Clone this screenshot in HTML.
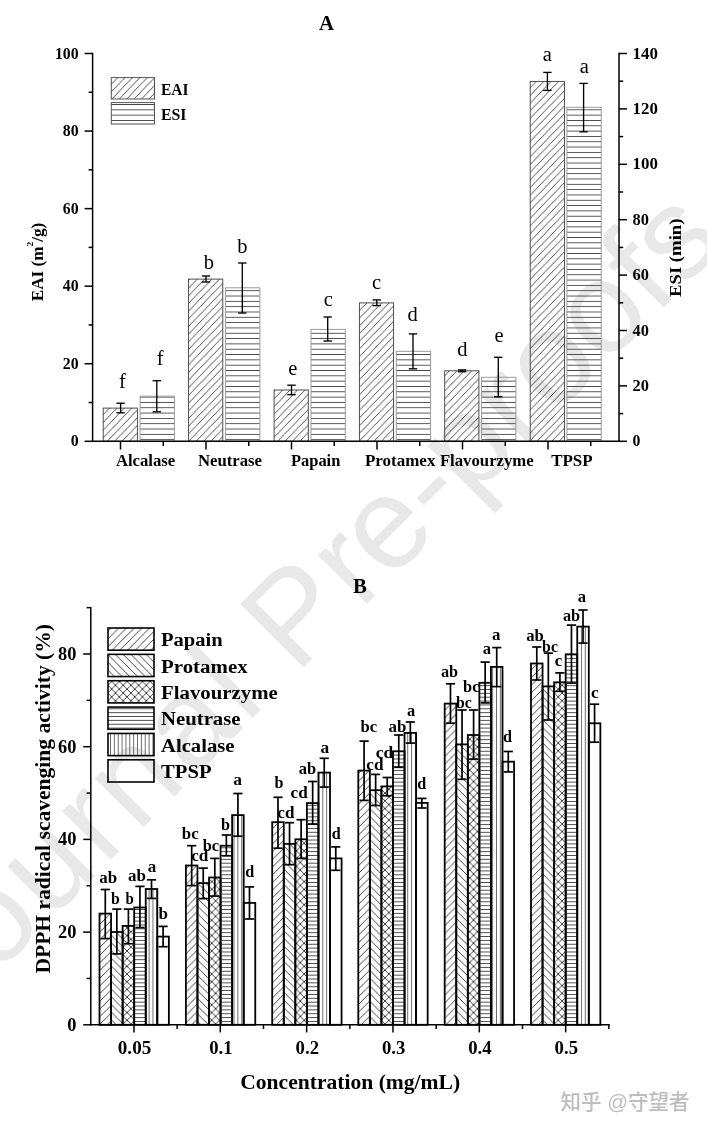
<!DOCTYPE html>
<html><head><meta charset="utf-8"><title>Figure</title>
<style>html,body{margin:0;padding:0;background:#fff}svg{display:block}text{font-family:"Liberation Serif",serif}</style></head><body>
<svg width="707" height="1130" viewBox="0 0 707 1130">
<defs>
<pattern id="aD" patternUnits="userSpaceOnUse" width="7.41" height="7.67"><path d="M0 7.67L7.41 0M-1 1.035L1 -1.035M6.41 8.705L8.41 6.635" stroke="#000" stroke-width="0.7" fill="none"/></pattern>
<pattern id="aH" patternUnits="userSpaceOnUse" width="20" height="5.32" patternTransform="translate(0,1.2)"><line x1="0" y1="2" x2="20" y2="2" stroke="#444" stroke-width="1" shape-rendering="crispEdges"/></pattern>
<pattern id="bD" patternUnits="userSpaceOnUse" width="7.7" height="7.7"><path d="M0 7.7L7.7 0M-1 1L1 -1M6.7 8.7L8.7 6.7" stroke="#111" stroke-width="0.8" fill="none"/></pattern>
<pattern id="bU" patternUnits="userSpaceOnUse" width="7.7" height="7.7"><path d="M0 0L7.7 7.7M-1 6.7L1 8.7M6.7 -1L8.7 1" stroke="#111" stroke-width="0.8" fill="none"/></pattern>
<pattern id="bX" patternUnits="userSpaceOnUse" width="7.7" height="7.7"><path d="M0 7.7L7.7 0M-1 1L1 -1M6.7 8.7L8.7 6.7M0 0L7.7 7.7M-1 6.7L1 8.7M6.7 -1L8.7 1" stroke="#111" stroke-width="0.8" fill="none"/></pattern>
<pattern id="bH" patternUnits="userSpaceOnUse" width="20" height="3.86"><line x1="0" y1="2" x2="20" y2="2" stroke="#4c4c4c" stroke-width="1" shape-rendering="crispEdges"/></pattern>
<pattern id="bV" patternUnits="userSpaceOnUse" width="3.86" height="20"><line x1="2" y1="0" x2="2" y2="20" stroke="#6a6a6a" stroke-width="1" shape-rendering="crispEdges"/></pattern>
</defs>
<rect width="707" height="1130" fill="#fff"/>
<text transform="translate(-31,1001.7) rotate(-45)" font-size="130" fill="#e8e8e8" style="font-family:'Liberation Sans',sans-serif" x="-32.0 37.2 114.5 191.8 238.0 315.3 392.6 425.0 462.4 553.5 593.5 667.0 708.7 781.3 827.1 898.3 970.9 1007.2" y="0">Journal Pre-proofs</text>
<rect x="103.20" y="408.10" width="34.20" height="33.20" fill="url(#aD)" stroke="#3c3c3c" stroke-width="0.9"/>
<rect x="140.10" y="396.20" width="34.30" height="45.10" fill="url(#aH)" stroke="#9a9a9a" stroke-width="1"/>
<rect x="188.60" y="279.10" width="34.20" height="162.20" fill="url(#aD)" stroke="#3c3c3c" stroke-width="0.9"/>
<rect x="225.60" y="287.80" width="34.30" height="153.50" fill="url(#aH)" stroke="#9a9a9a" stroke-width="1"/>
<rect x="274.10" y="390.00" width="34.20" height="51.30" fill="url(#aD)" stroke="#3c3c3c" stroke-width="0.9"/>
<rect x="311.00" y="329.40" width="34.30" height="111.90" fill="url(#aH)" stroke="#9a9a9a" stroke-width="1"/>
<rect x="359.40" y="302.90" width="34.20" height="138.40" fill="url(#aD)" stroke="#3c3c3c" stroke-width="0.9"/>
<rect x="396.30" y="351.30" width="34.30" height="90.00" fill="url(#aH)" stroke="#9a9a9a" stroke-width="1"/>
<rect x="444.70" y="370.80" width="34.20" height="70.50" fill="url(#aD)" stroke="#3c3c3c" stroke-width="0.9"/>
<rect x="481.60" y="377.30" width="34.30" height="64.00" fill="url(#aH)" stroke="#9a9a9a" stroke-width="1"/>
<rect x="530.20" y="81.40" width="34.20" height="359.90" fill="url(#aD)" stroke="#3c3c3c" stroke-width="0.9"/>
<rect x="566.90" y="107.30" width="34.30" height="334.00" fill="url(#aH)" stroke="#9a9a9a" stroke-width="1"/>
<line x1="120.60" y1="403.20" x2="120.60" y2="412.80" stroke="#000" stroke-width="1.35"/>
<line x1="116.40" y1="403.20" x2="124.80" y2="403.20" stroke="#000" stroke-width="1.35"/>
<line x1="116.40" y1="412.80" x2="124.80" y2="412.80" stroke="#000" stroke-width="1.35"/>
<line x1="156.80" y1="380.70" x2="156.80" y2="411.80" stroke="#000" stroke-width="1.35"/>
<line x1="152.60" y1="380.70" x2="161.00" y2="380.70" stroke="#000" stroke-width="1.35"/>
<line x1="152.60" y1="411.80" x2="161.00" y2="411.80" stroke="#000" stroke-width="1.35"/>
<line x1="206.00" y1="276.00" x2="206.00" y2="282.00" stroke="#000" stroke-width="1.35"/>
<line x1="201.80" y1="276.00" x2="210.20" y2="276.00" stroke="#000" stroke-width="1.35"/>
<line x1="201.80" y1="282.00" x2="210.20" y2="282.00" stroke="#000" stroke-width="1.35"/>
<line x1="242.30" y1="263.00" x2="242.30" y2="313.00" stroke="#000" stroke-width="1.35"/>
<line x1="238.10" y1="263.00" x2="246.50" y2="263.00" stroke="#000" stroke-width="1.35"/>
<line x1="238.10" y1="313.00" x2="246.50" y2="313.00" stroke="#000" stroke-width="1.35"/>
<line x1="291.50" y1="385.20" x2="291.50" y2="394.70" stroke="#000" stroke-width="1.35"/>
<line x1="287.30" y1="385.20" x2="295.70" y2="385.20" stroke="#000" stroke-width="1.35"/>
<line x1="287.30" y1="394.70" x2="295.70" y2="394.70" stroke="#000" stroke-width="1.35"/>
<line x1="327.70" y1="317.00" x2="327.70" y2="341.00" stroke="#000" stroke-width="1.35"/>
<line x1="323.50" y1="317.00" x2="331.90" y2="317.00" stroke="#000" stroke-width="1.35"/>
<line x1="323.50" y1="341.00" x2="331.90" y2="341.00" stroke="#000" stroke-width="1.35"/>
<line x1="376.80" y1="299.90" x2="376.80" y2="305.60" stroke="#000" stroke-width="1.35"/>
<line x1="372.60" y1="299.90" x2="381.00" y2="299.90" stroke="#000" stroke-width="1.35"/>
<line x1="372.60" y1="305.60" x2="381.00" y2="305.60" stroke="#000" stroke-width="1.35"/>
<line x1="413.00" y1="333.90" x2="413.00" y2="368.80" stroke="#000" stroke-width="1.35"/>
<line x1="408.80" y1="333.90" x2="417.20" y2="333.90" stroke="#000" stroke-width="1.35"/>
<line x1="408.80" y1="368.80" x2="417.20" y2="368.80" stroke="#000" stroke-width="1.35"/>
<line x1="462.10" y1="369.90" x2="462.10" y2="371.70" stroke="#000" stroke-width="1.35"/>
<line x1="457.90" y1="369.90" x2="466.30" y2="369.90" stroke="#000" stroke-width="1.35"/>
<line x1="457.90" y1="371.70" x2="466.30" y2="371.70" stroke="#000" stroke-width="1.35"/>
<line x1="498.30" y1="357.30" x2="498.30" y2="396.80" stroke="#000" stroke-width="1.35"/>
<line x1="494.10" y1="357.30" x2="502.50" y2="357.30" stroke="#000" stroke-width="1.35"/>
<line x1="494.10" y1="396.80" x2="502.50" y2="396.80" stroke="#000" stroke-width="1.35"/>
<line x1="547.40" y1="72.40" x2="547.40" y2="90.40" stroke="#000" stroke-width="1.35"/>
<line x1="543.20" y1="72.40" x2="551.60" y2="72.40" stroke="#000" stroke-width="1.35"/>
<line x1="543.20" y1="90.40" x2="551.60" y2="90.40" stroke="#000" stroke-width="1.35"/>
<line x1="583.60" y1="83.40" x2="583.60" y2="131.80" stroke="#000" stroke-width="1.35"/>
<line x1="579.40" y1="83.40" x2="587.80" y2="83.40" stroke="#000" stroke-width="1.35"/>
<line x1="579.40" y1="131.80" x2="587.80" y2="131.80" stroke="#000" stroke-width="1.35"/>
<line x1="92.60" y1="52.75" x2="92.60" y2="442.05" stroke="#000" stroke-width="1.5"/>
<line x1="619.00" y1="52.75" x2="619.00" y2="442.05" stroke="#000" stroke-width="1.5"/>
<line x1="91.85" y1="441.30" x2="619.75" y2="441.30" stroke="#000" stroke-width="1.5"/>
<line x1="84.60" y1="441.30" x2="92.60" y2="441.30" stroke="#000" stroke-width="1.5"/>
<text font-size="15.8" font-weight="bold" text-anchor="end" x="78.6" y="446.4">0</text>
<line x1="88.60" y1="402.52" x2="92.60" y2="402.52" stroke="#000" stroke-width="1.5"/>
<line x1="84.60" y1="363.74" x2="92.60" y2="363.74" stroke="#000" stroke-width="1.5"/>
<text font-size="15.8" font-weight="bold" text-anchor="end" x="78.6" y="368.8">20</text>
<line x1="88.60" y1="324.96" x2="92.60" y2="324.96" stroke="#000" stroke-width="1.5"/>
<line x1="84.60" y1="286.18" x2="92.60" y2="286.18" stroke="#000" stroke-width="1.5"/>
<text font-size="15.8" font-weight="bold" text-anchor="end" x="78.6" y="291.3">40</text>
<line x1="88.60" y1="247.40" x2="92.60" y2="247.40" stroke="#000" stroke-width="1.5"/>
<line x1="84.60" y1="208.62" x2="92.60" y2="208.62" stroke="#000" stroke-width="1.5"/>
<text font-size="15.8" font-weight="bold" text-anchor="end" x="78.6" y="213.7">60</text>
<line x1="88.60" y1="169.84" x2="92.60" y2="169.84" stroke="#000" stroke-width="1.5"/>
<line x1="84.60" y1="131.06" x2="92.60" y2="131.06" stroke="#000" stroke-width="1.5"/>
<text font-size="15.8" font-weight="bold" text-anchor="end" x="78.6" y="136.2">80</text>
<line x1="88.60" y1="92.28" x2="92.60" y2="92.28" stroke="#000" stroke-width="1.5"/>
<line x1="84.60" y1="53.50" x2="92.60" y2="53.50" stroke="#000" stroke-width="1.5"/>
<text font-size="15.8" font-weight="bold" text-anchor="end" x="78.6" y="58.6">100</text>
<line x1="619.00" y1="441.30" x2="627.00" y2="441.30" stroke="#000" stroke-width="1.5"/>
<text font-size="15.8" font-weight="bold" x="632.6" y="446.4">0</text>
<line x1="619.00" y1="413.60" x2="623.20" y2="413.60" stroke="#000" stroke-width="1.5"/>
<line x1="619.00" y1="385.90" x2="627.00" y2="385.90" stroke="#000" stroke-width="1.5"/>
<text font-size="15.8" font-weight="bold" textLength="16.4" lengthAdjust="spacingAndGlyphs" x="632.6" y="391.0">20</text>
<line x1="619.00" y1="358.20" x2="623.20" y2="358.20" stroke="#000" stroke-width="1.5"/>
<line x1="619.00" y1="330.50" x2="627.00" y2="330.50" stroke="#000" stroke-width="1.5"/>
<text font-size="15.8" font-weight="bold" textLength="16.4" lengthAdjust="spacingAndGlyphs" x="632.6" y="335.6">40</text>
<line x1="619.00" y1="302.80" x2="623.20" y2="302.80" stroke="#000" stroke-width="1.5"/>
<line x1="619.00" y1="275.10" x2="627.00" y2="275.10" stroke="#000" stroke-width="1.5"/>
<text font-size="15.8" font-weight="bold" textLength="16.4" lengthAdjust="spacingAndGlyphs" x="632.6" y="280.2">60</text>
<line x1="619.00" y1="247.40" x2="623.20" y2="247.40" stroke="#000" stroke-width="1.5"/>
<line x1="619.00" y1="219.70" x2="627.00" y2="219.70" stroke="#000" stroke-width="1.5"/>
<text font-size="15.8" font-weight="bold" textLength="16.4" lengthAdjust="spacingAndGlyphs" x="632.6" y="224.8">80</text>
<line x1="619.00" y1="192.00" x2="623.20" y2="192.00" stroke="#000" stroke-width="1.5"/>
<line x1="619.00" y1="164.30" x2="627.00" y2="164.30" stroke="#000" stroke-width="1.5"/>
<text font-size="15.8" font-weight="bold" textLength="25.4" lengthAdjust="spacingAndGlyphs" x="632.6" y="169.4">100</text>
<line x1="619.00" y1="136.60" x2="623.20" y2="136.60" stroke="#000" stroke-width="1.5"/>
<line x1="619.00" y1="108.90" x2="627.00" y2="108.90" stroke="#000" stroke-width="1.5"/>
<text font-size="15.8" font-weight="bold" textLength="25.4" lengthAdjust="spacingAndGlyphs" x="632.6" y="114.0">120</text>
<line x1="619.00" y1="81.20" x2="623.20" y2="81.20" stroke="#000" stroke-width="1.5"/>
<line x1="619.00" y1="53.50" x2="627.00" y2="53.50" stroke="#000" stroke-width="1.5"/>
<text font-size="15.8" font-weight="bold" textLength="25.4" lengthAdjust="spacingAndGlyphs" x="632.6" y="58.6">140</text>
<line x1="120.50" y1="441.30" x2="120.50" y2="449.50" stroke="#000" stroke-width="1.5"/>
<line x1="163.25" y1="441.30" x2="163.25" y2="446.10" stroke="#000" stroke-width="1.5"/>
<line x1="206.00" y1="441.30" x2="206.00" y2="449.50" stroke="#000" stroke-width="1.5"/>
<line x1="248.75" y1="441.30" x2="248.75" y2="446.10" stroke="#000" stroke-width="1.5"/>
<line x1="291.50" y1="441.30" x2="291.50" y2="449.50" stroke="#000" stroke-width="1.5"/>
<line x1="334.25" y1="441.30" x2="334.25" y2="446.10" stroke="#000" stroke-width="1.5"/>
<line x1="377.00" y1="441.30" x2="377.00" y2="449.50" stroke="#000" stroke-width="1.5"/>
<line x1="419.75" y1="441.30" x2="419.75" y2="446.10" stroke="#000" stroke-width="1.5"/>
<line x1="462.50" y1="441.30" x2="462.50" y2="449.50" stroke="#000" stroke-width="1.5"/>
<line x1="505.25" y1="441.30" x2="505.25" y2="446.10" stroke="#000" stroke-width="1.5"/>
<line x1="548.00" y1="441.30" x2="548.00" y2="449.50" stroke="#000" stroke-width="1.5"/>
<line x1="590.75" y1="441.30" x2="590.75" y2="446.10" stroke="#000" stroke-width="1.5"/>
<text font-size="16.2" font-weight="bold" textLength="59.4" lengthAdjust="spacingAndGlyphs" x="115.9" y="465.7">Alcalase</text>
<text font-size="16.2" font-weight="bold" textLength="64.1" lengthAdjust="spacingAndGlyphs" x="197.9" y="465.7">Neutrase</text>
<text font-size="16.2" font-weight="bold" textLength="49.5" lengthAdjust="spacingAndGlyphs" x="290.9" y="465.7">Papain</text>
<text font-size="16.2" font-weight="bold" textLength="70.4" lengthAdjust="spacingAndGlyphs" x="365.0" y="465.7">Protamex</text>
<text font-size="16.2" font-weight="bold" textLength="93.8" lengthAdjust="spacingAndGlyphs" x="439.9" y="465.7">Flavourzyme</text>
<text font-size="16.2" font-weight="bold" textLength="41.4" lengthAdjust="spacingAndGlyphs" x="551.2" y="465.7">TPSP</text>
<text font-size="20.5" text-anchor="middle" x="122.5" y="388.4">f</text>
<text font-size="20.5" text-anchor="middle" x="160.2" y="365.4">f</text>
<text font-size="20.5" text-anchor="middle" x="208.8" y="268.5">b</text>
<text font-size="20.5" text-anchor="middle" x="242.3" y="253.3">b</text>
<text font-size="20.5" text-anchor="middle" x="292.9" y="375.3">e</text>
<text font-size="20.5" text-anchor="middle" x="328.2" y="306.3">c</text>
<text font-size="20.5" text-anchor="middle" x="376.5" y="288.9">c</text>
<text font-size="20.5" text-anchor="middle" x="412.6" y="320.9">d</text>
<text font-size="20.5" text-anchor="middle" x="462.3" y="356.3">d</text>
<text font-size="20.5" text-anchor="middle" x="499.1" y="341.8">e</text>
<text font-size="20.5" text-anchor="middle" x="547.2" y="60.9">a</text>
<text font-size="20.5" text-anchor="middle" x="584.2" y="73.4">a</text>
<text font-size="20.8" font-weight="bold" text-anchor="middle" x="326.6" y="29.9">A</text>
<rect x="111.30" y="77.60" width="43.20" height="21.40" fill="url(#aD)" stroke="#555" stroke-width="1"/>
<rect x="111.30" y="102.60" width="43.20" height="21.40" fill="url(#aH)" stroke="#555" stroke-width="1"/>
<text font-size="15.8" font-weight="bold" textLength="27.6" lengthAdjust="spacingAndGlyphs" x="161.0" y="94.9">EAI</text>
<text font-size="15.8" font-weight="bold" textLength="25.5" lengthAdjust="spacingAndGlyphs" x="161.0" y="119.8">ESI</text>
<text font-size="16.6" font-weight="bold" textLength="78.6" lengthAdjust="spacingAndGlyphs" transform="translate(43.4,301.3) rotate(-90)">EAI (m<tspan font-size="9" dy="-10">2</tspan><tspan dy="10">/g)</tspan></text>
<text font-size="16.6" font-weight="bold" textLength="78.5" lengthAdjust="spacingAndGlyphs" transform="translate(680.6,297.0) rotate(-90)">ESI (min)</text>
<rect x="99.50" y="913.60" width="11.56" height="111.20" fill="url(#bD)" stroke="#000" stroke-width="1.8"/>
<rect x="111.06" y="932.00" width="11.56" height="92.80" fill="url(#bU)" stroke="#000" stroke-width="1.8"/>
<rect x="122.62" y="925.90" width="11.56" height="98.90" fill="url(#bX)" stroke="#000" stroke-width="1.8"/>
<rect x="134.18" y="907.50" width="11.56" height="117.30" fill="url(#bH)" stroke="#000" stroke-width="1.8"/>
<rect x="145.74" y="889.00" width="11.56" height="135.80" fill="url(#bV)" stroke="#000" stroke-width="1.8"/>
<rect x="157.30" y="936.60" width="11.56" height="88.20" fill="none" stroke="#000" stroke-width="1.8"/>
<line x1="105.28" y1="889.50" x2="105.28" y2="938.60" stroke="#000" stroke-width="1.7"/>
<line x1="100.68" y1="889.50" x2="109.88" y2="889.50" stroke="#000" stroke-width="1.7"/>
<line x1="100.68" y1="938.60" x2="109.88" y2="938.60" stroke="#000" stroke-width="1.7"/>
<line x1="116.84" y1="909.10" x2="116.84" y2="953.90" stroke="#000" stroke-width="1.7"/>
<line x1="112.24" y1="909.10" x2="121.44" y2="909.10" stroke="#000" stroke-width="1.7"/>
<line x1="112.24" y1="953.90" x2="121.44" y2="953.90" stroke="#000" stroke-width="1.7"/>
<line x1="128.40" y1="909.10" x2="128.40" y2="943.70" stroke="#000" stroke-width="1.7"/>
<line x1="123.80" y1="909.10" x2="133.00" y2="909.10" stroke="#000" stroke-width="1.7"/>
<line x1="123.80" y1="943.70" x2="133.00" y2="943.70" stroke="#000" stroke-width="1.7"/>
<line x1="139.96" y1="886.40" x2="139.96" y2="927.60" stroke="#000" stroke-width="1.7"/>
<line x1="135.36" y1="886.40" x2="144.56" y2="886.40" stroke="#000" stroke-width="1.7"/>
<line x1="135.36" y1="927.60" x2="144.56" y2="927.60" stroke="#000" stroke-width="1.7"/>
<line x1="151.52" y1="879.80" x2="151.52" y2="898.40" stroke="#000" stroke-width="1.7"/>
<line x1="146.92" y1="879.80" x2="156.12" y2="879.80" stroke="#000" stroke-width="1.7"/>
<line x1="146.92" y1="898.40" x2="156.12" y2="898.40" stroke="#000" stroke-width="1.7"/>
<line x1="163.08" y1="926.40" x2="163.08" y2="946.70" stroke="#000" stroke-width="1.7"/>
<line x1="158.48" y1="926.40" x2="167.68" y2="926.40" stroke="#000" stroke-width="1.7"/>
<line x1="158.48" y1="946.70" x2="167.68" y2="946.70" stroke="#000" stroke-width="1.7"/>
<rect x="185.90" y="865.50" width="11.56" height="159.30" fill="url(#bD)" stroke="#000" stroke-width="1.8"/>
<rect x="197.46" y="883.10" width="11.56" height="141.70" fill="url(#bU)" stroke="#000" stroke-width="1.8"/>
<rect x="209.02" y="877.50" width="11.56" height="147.30" fill="url(#bX)" stroke="#000" stroke-width="1.8"/>
<rect x="220.58" y="845.70" width="11.56" height="179.10" fill="url(#bH)" stroke="#000" stroke-width="1.8"/>
<rect x="232.14" y="815.10" width="11.56" height="209.70" fill="url(#bV)" stroke="#000" stroke-width="1.8"/>
<rect x="243.70" y="902.90" width="11.56" height="121.90" fill="none" stroke="#000" stroke-width="1.8"/>
<line x1="191.68" y1="845.70" x2="191.68" y2="885.60" stroke="#000" stroke-width="1.7"/>
<line x1="187.08" y1="845.70" x2="196.28" y2="845.70" stroke="#000" stroke-width="1.7"/>
<line x1="187.08" y1="885.60" x2="196.28" y2="885.60" stroke="#000" stroke-width="1.7"/>
<line x1="203.24" y1="868.10" x2="203.24" y2="898.60" stroke="#000" stroke-width="1.7"/>
<line x1="198.64" y1="868.10" x2="207.84" y2="868.10" stroke="#000" stroke-width="1.7"/>
<line x1="198.64" y1="898.60" x2="207.84" y2="898.60" stroke="#000" stroke-width="1.7"/>
<line x1="214.80" y1="858.40" x2="214.80" y2="896.10" stroke="#000" stroke-width="1.7"/>
<line x1="210.20" y1="858.40" x2="219.40" y2="858.40" stroke="#000" stroke-width="1.7"/>
<line x1="210.20" y1="896.10" x2="219.40" y2="896.10" stroke="#000" stroke-width="1.7"/>
<line x1="226.36" y1="835.00" x2="226.36" y2="855.80" stroke="#000" stroke-width="1.7"/>
<line x1="221.76" y1="835.00" x2="230.96" y2="835.00" stroke="#000" stroke-width="1.7"/>
<line x1="221.76" y1="855.80" x2="230.96" y2="855.80" stroke="#000" stroke-width="1.7"/>
<line x1="237.92" y1="793.50" x2="237.92" y2="836.20" stroke="#000" stroke-width="1.7"/>
<line x1="233.32" y1="793.50" x2="242.52" y2="793.50" stroke="#000" stroke-width="1.7"/>
<line x1="233.32" y1="836.20" x2="242.52" y2="836.20" stroke="#000" stroke-width="1.7"/>
<line x1="249.48" y1="886.90" x2="249.48" y2="919.00" stroke="#000" stroke-width="1.7"/>
<line x1="244.88" y1="886.90" x2="254.08" y2="886.90" stroke="#000" stroke-width="1.7"/>
<line x1="244.88" y1="919.00" x2="254.08" y2="919.00" stroke="#000" stroke-width="1.7"/>
<rect x="272.20" y="822.20" width="11.56" height="202.60" fill="url(#bD)" stroke="#000" stroke-width="1.8"/>
<rect x="283.76" y="843.90" width="11.56" height="180.90" fill="url(#bU)" stroke="#000" stroke-width="1.8"/>
<rect x="295.32" y="839.30" width="11.56" height="185.50" fill="url(#bX)" stroke="#000" stroke-width="1.8"/>
<rect x="306.88" y="803.10" width="11.56" height="221.70" fill="url(#bH)" stroke="#000" stroke-width="1.8"/>
<rect x="318.44" y="772.60" width="11.56" height="252.20" fill="url(#bV)" stroke="#000" stroke-width="1.8"/>
<rect x="330.00" y="858.40" width="11.56" height="166.40" fill="none" stroke="#000" stroke-width="1.8"/>
<line x1="277.98" y1="797.30" x2="277.98" y2="848.20" stroke="#000" stroke-width="1.7"/>
<line x1="273.38" y1="797.30" x2="282.58" y2="797.30" stroke="#000" stroke-width="1.7"/>
<line x1="273.38" y1="848.20" x2="282.58" y2="848.20" stroke="#000" stroke-width="1.7"/>
<line x1="289.54" y1="822.70" x2="289.54" y2="864.70" stroke="#000" stroke-width="1.7"/>
<line x1="284.94" y1="822.70" x2="294.14" y2="822.70" stroke="#000" stroke-width="1.7"/>
<line x1="284.94" y1="864.70" x2="294.14" y2="864.70" stroke="#000" stroke-width="1.7"/>
<line x1="301.10" y1="819.70" x2="301.10" y2="858.40" stroke="#000" stroke-width="1.7"/>
<line x1="296.50" y1="819.70" x2="305.70" y2="819.70" stroke="#000" stroke-width="1.7"/>
<line x1="296.50" y1="858.40" x2="305.70" y2="858.40" stroke="#000" stroke-width="1.7"/>
<line x1="312.66" y1="781.50" x2="312.66" y2="824.00" stroke="#000" stroke-width="1.7"/>
<line x1="308.06" y1="781.50" x2="317.26" y2="781.50" stroke="#000" stroke-width="1.7"/>
<line x1="308.06" y1="824.00" x2="317.26" y2="824.00" stroke="#000" stroke-width="1.7"/>
<line x1="324.22" y1="758.30" x2="324.22" y2="787.10" stroke="#000" stroke-width="1.7"/>
<line x1="319.62" y1="758.30" x2="328.82" y2="758.30" stroke="#000" stroke-width="1.7"/>
<line x1="319.62" y1="787.10" x2="328.82" y2="787.10" stroke="#000" stroke-width="1.7"/>
<line x1="335.78" y1="846.90" x2="335.78" y2="870.30" stroke="#000" stroke-width="1.7"/>
<line x1="331.18" y1="846.90" x2="340.38" y2="846.90" stroke="#000" stroke-width="1.7"/>
<line x1="331.18" y1="870.30" x2="340.38" y2="870.30" stroke="#000" stroke-width="1.7"/>
<rect x="358.30" y="770.60" width="11.56" height="254.20" fill="url(#bD)" stroke="#000" stroke-width="1.8"/>
<rect x="369.86" y="790.20" width="11.56" height="234.60" fill="url(#bU)" stroke="#000" stroke-width="1.8"/>
<rect x="381.42" y="786.40" width="11.56" height="238.40" fill="url(#bX)" stroke="#000" stroke-width="1.8"/>
<rect x="392.98" y="751.30" width="11.56" height="273.50" fill="url(#bH)" stroke="#000" stroke-width="1.8"/>
<rect x="404.54" y="732.90" width="11.56" height="291.90" fill="url(#bV)" stroke="#000" stroke-width="1.8"/>
<rect x="416.10" y="802.90" width="11.56" height="221.90" fill="none" stroke="#000" stroke-width="1.8"/>
<line x1="364.08" y1="741.10" x2="364.08" y2="800.40" stroke="#000" stroke-width="1.7"/>
<line x1="359.48" y1="741.10" x2="368.68" y2="741.10" stroke="#000" stroke-width="1.7"/>
<line x1="359.48" y1="800.40" x2="368.68" y2="800.40" stroke="#000" stroke-width="1.7"/>
<line x1="375.64" y1="774.40" x2="375.64" y2="805.50" stroke="#000" stroke-width="1.7"/>
<line x1="371.04" y1="774.40" x2="380.24" y2="774.40" stroke="#000" stroke-width="1.7"/>
<line x1="371.04" y1="805.50" x2="380.24" y2="805.50" stroke="#000" stroke-width="1.7"/>
<line x1="387.20" y1="777.50" x2="387.20" y2="795.80" stroke="#000" stroke-width="1.7"/>
<line x1="382.60" y1="777.50" x2="391.80" y2="777.50" stroke="#000" stroke-width="1.7"/>
<line x1="382.60" y1="795.80" x2="391.80" y2="795.80" stroke="#000" stroke-width="1.7"/>
<line x1="398.76" y1="735.00" x2="398.76" y2="767.30" stroke="#000" stroke-width="1.7"/>
<line x1="394.16" y1="735.00" x2="403.36" y2="735.00" stroke="#000" stroke-width="1.7"/>
<line x1="394.16" y1="767.30" x2="403.36" y2="767.30" stroke="#000" stroke-width="1.7"/>
<line x1="410.32" y1="722.00" x2="410.32" y2="743.10" stroke="#000" stroke-width="1.7"/>
<line x1="405.72" y1="722.00" x2="414.92" y2="722.00" stroke="#000" stroke-width="1.7"/>
<line x1="405.72" y1="743.10" x2="414.92" y2="743.10" stroke="#000" stroke-width="1.7"/>
<line x1="421.88" y1="798.40" x2="421.88" y2="808.00" stroke="#000" stroke-width="1.7"/>
<line x1="417.28" y1="798.40" x2="426.48" y2="798.40" stroke="#000" stroke-width="1.7"/>
<line x1="417.28" y1="808.00" x2="426.48" y2="808.00" stroke="#000" stroke-width="1.7"/>
<rect x="444.70" y="703.60" width="11.56" height="321.20" fill="url(#bD)" stroke="#000" stroke-width="1.8"/>
<rect x="456.26" y="744.40" width="11.56" height="280.40" fill="url(#bU)" stroke="#000" stroke-width="1.8"/>
<rect x="467.82" y="735.00" width="11.56" height="289.80" fill="url(#bX)" stroke="#000" stroke-width="1.8"/>
<rect x="479.38" y="682.80" width="11.56" height="342.00" fill="url(#bH)" stroke="#000" stroke-width="1.8"/>
<rect x="490.94" y="666.90" width="11.56" height="357.90" fill="url(#bV)" stroke="#000" stroke-width="1.8"/>
<rect x="502.50" y="761.70" width="11.56" height="263.10" fill="none" stroke="#000" stroke-width="1.8"/>
<line x1="450.48" y1="683.80" x2="450.48" y2="723.20" stroke="#000" stroke-width="1.7"/>
<line x1="445.88" y1="683.80" x2="455.08" y2="683.80" stroke="#000" stroke-width="1.7"/>
<line x1="445.88" y1="723.20" x2="455.08" y2="723.20" stroke="#000" stroke-width="1.7"/>
<line x1="462.04" y1="710.00" x2="462.04" y2="779.30" stroke="#000" stroke-width="1.7"/>
<line x1="457.44" y1="710.00" x2="466.64" y2="710.00" stroke="#000" stroke-width="1.7"/>
<line x1="457.44" y1="779.30" x2="466.64" y2="779.30" stroke="#000" stroke-width="1.7"/>
<line x1="473.60" y1="710.00" x2="473.60" y2="759.10" stroke="#000" stroke-width="1.7"/>
<line x1="469.00" y1="710.00" x2="478.20" y2="710.00" stroke="#000" stroke-width="1.7"/>
<line x1="469.00" y1="759.10" x2="478.20" y2="759.10" stroke="#000" stroke-width="1.7"/>
<line x1="485.16" y1="662.10" x2="485.16" y2="702.90" stroke="#000" stroke-width="1.7"/>
<line x1="480.56" y1="662.10" x2="489.76" y2="662.10" stroke="#000" stroke-width="1.7"/>
<line x1="480.56" y1="702.90" x2="489.76" y2="702.90" stroke="#000" stroke-width="1.7"/>
<line x1="496.72" y1="647.60" x2="496.72" y2="686.60" stroke="#000" stroke-width="1.7"/>
<line x1="492.12" y1="647.60" x2="501.32" y2="647.60" stroke="#000" stroke-width="1.7"/>
<line x1="492.12" y1="686.60" x2="501.32" y2="686.60" stroke="#000" stroke-width="1.7"/>
<line x1="508.28" y1="751.50" x2="508.28" y2="771.90" stroke="#000" stroke-width="1.7"/>
<line x1="503.68" y1="751.50" x2="512.88" y2="751.50" stroke="#000" stroke-width="1.7"/>
<line x1="503.68" y1="771.90" x2="512.88" y2="771.90" stroke="#000" stroke-width="1.7"/>
<rect x="531.00" y="663.50" width="11.56" height="361.30" fill="url(#bD)" stroke="#000" stroke-width="1.8"/>
<rect x="542.56" y="686.40" width="11.56" height="338.40" fill="url(#bU)" stroke="#000" stroke-width="1.8"/>
<rect x="554.12" y="682.30" width="11.56" height="342.50" fill="url(#bX)" stroke="#000" stroke-width="1.8"/>
<rect x="565.68" y="654.30" width="11.56" height="370.50" fill="url(#bH)" stroke="#000" stroke-width="1.8"/>
<rect x="577.24" y="626.60" width="11.56" height="398.20" fill="url(#bV)" stroke="#000" stroke-width="1.8"/>
<rect x="588.80" y="723.30" width="11.56" height="301.50" fill="none" stroke="#000" stroke-width="1.8"/>
<line x1="536.78" y1="647.00" x2="536.78" y2="680.00" stroke="#000" stroke-width="1.7"/>
<line x1="532.18" y1="647.00" x2="541.38" y2="647.00" stroke="#000" stroke-width="1.7"/>
<line x1="532.18" y1="680.00" x2="541.38" y2="680.00" stroke="#000" stroke-width="1.7"/>
<line x1="548.34" y1="653.10" x2="548.34" y2="720.00" stroke="#000" stroke-width="1.7"/>
<line x1="543.74" y1="653.10" x2="552.94" y2="653.10" stroke="#000" stroke-width="1.7"/>
<line x1="543.74" y1="720.00" x2="552.94" y2="720.00" stroke="#000" stroke-width="1.7"/>
<line x1="559.90" y1="672.90" x2="559.90" y2="691.30" stroke="#000" stroke-width="1.7"/>
<line x1="555.30" y1="672.90" x2="564.50" y2="672.90" stroke="#000" stroke-width="1.7"/>
<line x1="555.30" y1="691.30" x2="564.50" y2="691.30" stroke="#000" stroke-width="1.7"/>
<line x1="571.46" y1="625.10" x2="571.46" y2="683.10" stroke="#000" stroke-width="1.7"/>
<line x1="566.86" y1="625.10" x2="576.06" y2="625.10" stroke="#000" stroke-width="1.7"/>
<line x1="566.86" y1="683.10" x2="576.06" y2="683.10" stroke="#000" stroke-width="1.7"/>
<line x1="583.02" y1="610.00" x2="583.02" y2="643.10" stroke="#000" stroke-width="1.7"/>
<line x1="578.42" y1="610.00" x2="587.62" y2="610.00" stroke="#000" stroke-width="1.7"/>
<line x1="578.42" y1="643.10" x2="587.62" y2="643.10" stroke="#000" stroke-width="1.7"/>
<line x1="594.58" y1="704.20" x2="594.58" y2="742.20" stroke="#000" stroke-width="1.7"/>
<line x1="589.98" y1="704.20" x2="599.18" y2="704.20" stroke="#000" stroke-width="1.7"/>
<line x1="589.98" y1="742.20" x2="599.18" y2="742.20" stroke="#000" stroke-width="1.7"/>
<line x1="90.80" y1="606.95" x2="90.80" y2="1025.55" stroke="#000" stroke-width="1.5"/>
<line x1="90.05" y1="1024.80" x2="609.75" y2="1024.80" stroke="#000" stroke-width="1.5"/>
<line x1="83.20" y1="1024.80" x2="90.80" y2="1024.80" stroke="#000" stroke-width="1.5"/>
<text font-size="18.6" font-weight="bold" text-anchor="end" textLength="9.2" lengthAdjust="spacingAndGlyphs" x="76.4" y="1030.8">0</text>
<line x1="86.60" y1="978.45" x2="90.80" y2="978.45" stroke="#000" stroke-width="1.5"/>
<line x1="83.20" y1="932.10" x2="90.80" y2="932.10" stroke="#000" stroke-width="1.5"/>
<text font-size="18.6" font-weight="bold" text-anchor="end" textLength="18.4" lengthAdjust="spacingAndGlyphs" x="76.4" y="938.1">20</text>
<line x1="86.60" y1="885.75" x2="90.80" y2="885.75" stroke="#000" stroke-width="1.5"/>
<line x1="83.20" y1="839.40" x2="90.80" y2="839.40" stroke="#000" stroke-width="1.5"/>
<text font-size="18.6" font-weight="bold" text-anchor="end" textLength="18.4" lengthAdjust="spacingAndGlyphs" x="76.4" y="845.4">40</text>
<line x1="86.60" y1="793.05" x2="90.80" y2="793.05" stroke="#000" stroke-width="1.5"/>
<line x1="83.20" y1="746.70" x2="90.80" y2="746.70" stroke="#000" stroke-width="1.5"/>
<text font-size="18.6" font-weight="bold" text-anchor="end" textLength="18.4" lengthAdjust="spacingAndGlyphs" x="76.4" y="752.7">60</text>
<line x1="86.60" y1="700.35" x2="90.80" y2="700.35" stroke="#000" stroke-width="1.5"/>
<line x1="83.20" y1="654.00" x2="90.80" y2="654.00" stroke="#000" stroke-width="1.5"/>
<text font-size="18.6" font-weight="bold" text-anchor="end" textLength="18.4" lengthAdjust="spacingAndGlyphs" x="76.4" y="660.0">80</text>
<line x1="86.60" y1="607.65" x2="90.80" y2="607.65" stroke="#000" stroke-width="1.5"/>
<line x1="133.97" y1="1024.80" x2="133.97" y2="1032.40" stroke="#000" stroke-width="1.5"/>
<line x1="177.14" y1="1024.80" x2="177.14" y2="1029.00" stroke="#000" stroke-width="1.5"/>
<line x1="220.31" y1="1024.80" x2="220.31" y2="1032.40" stroke="#000" stroke-width="1.5"/>
<line x1="263.48" y1="1024.80" x2="263.48" y2="1029.00" stroke="#000" stroke-width="1.5"/>
<line x1="306.65" y1="1024.80" x2="306.65" y2="1032.40" stroke="#000" stroke-width="1.5"/>
<line x1="349.82" y1="1024.80" x2="349.82" y2="1029.00" stroke="#000" stroke-width="1.5"/>
<line x1="392.99" y1="1024.80" x2="392.99" y2="1032.40" stroke="#000" stroke-width="1.5"/>
<line x1="436.16" y1="1024.80" x2="436.16" y2="1029.00" stroke="#000" stroke-width="1.5"/>
<line x1="479.33" y1="1024.80" x2="479.33" y2="1032.40" stroke="#000" stroke-width="1.5"/>
<line x1="522.50" y1="1024.80" x2="522.50" y2="1029.00" stroke="#000" stroke-width="1.5"/>
<line x1="565.67" y1="1024.80" x2="565.67" y2="1032.40" stroke="#000" stroke-width="1.5"/>
<line x1="608.84" y1="1024.80" x2="608.84" y2="1029.00" stroke="#000" stroke-width="1.5"/>
<text font-size="18.6" font-weight="bold" textLength="33.5" lengthAdjust="spacingAndGlyphs" x="117.8" y="1053.7">0.05</text>
<text font-size="18.6" font-weight="bold" textLength="23.4" lengthAdjust="spacingAndGlyphs" x="209.2" y="1053.7">0.1</text>
<text font-size="18.6" font-weight="bold" textLength="23.4" lengthAdjust="spacingAndGlyphs" x="295.6" y="1053.7">0.2</text>
<text font-size="18.6" font-weight="bold" textLength="23.4" lengthAdjust="spacingAndGlyphs" x="381.9" y="1053.7">0.3</text>
<text font-size="18.6" font-weight="bold" textLength="23.4" lengthAdjust="spacingAndGlyphs" x="468.2" y="1053.7">0.4</text>
<text font-size="18.6" font-weight="bold" textLength="23.4" lengthAdjust="spacingAndGlyphs" x="554.6" y="1053.7">0.5</text>
<text font-size="21" font-weight="bold" textLength="220.0" lengthAdjust="spacingAndGlyphs" x="240.2" y="1089.2">Concentration (mg/mL)</text>
<text font-size="22" font-weight="bold" textLength="349.6" lengthAdjust="spacingAndGlyphs" transform="translate(50.0,973.6) rotate(-90)">DPPH radical scavenging activity (%)</text>
<text font-size="20.7" font-weight="bold" text-anchor="middle" x="359.8" y="592.9">B</text>
<rect x="108.00" y="628.00" width="46.00" height="22.20" fill="url(#bD)" stroke="#000" stroke-width="1.6"/>
<rect x="108.00" y="654.36" width="46.00" height="22.20" fill="url(#bU)" stroke="#000" stroke-width="1.6"/>
<rect x="108.00" y="680.72" width="46.00" height="22.20" fill="url(#bX)" stroke="#000" stroke-width="1.6"/>
<rect x="108.00" y="707.08" width="46.00" height="22.20" fill="url(#bH)" stroke="#000" stroke-width="1.6"/>
<rect x="108.00" y="733.44" width="46.00" height="22.20" fill="url(#bV)" stroke="#000" stroke-width="1.6"/>
<rect x="108.00" y="759.80" width="46.00" height="22.20" fill="none" stroke="#000" stroke-width="1.6"/>
<text font-size="19.6" font-weight="bold" textLength="61.7" lengthAdjust="spacingAndGlyphs" x="161.0" y="646.3">Papain</text>
<text font-size="19.6" font-weight="bold" textLength="86.6" lengthAdjust="spacingAndGlyphs" x="161.0" y="672.7">Protamex</text>
<text font-size="19.6" font-weight="bold" textLength="116.8" lengthAdjust="spacingAndGlyphs" x="161.0" y="699.0">Flavourzyme</text>
<text font-size="19.6" font-weight="bold" textLength="79.5" lengthAdjust="spacingAndGlyphs" x="161.0" y="725.4">Neutrase</text>
<text font-size="19.6" font-weight="bold" textLength="73.5" lengthAdjust="spacingAndGlyphs" x="161.0" y="751.7">Alcalase</text>
<text font-size="19.6" font-weight="bold" textLength="50.5" lengthAdjust="spacingAndGlyphs" x="161.0" y="778.1">TPSP</text>
<text font-size="16.2" font-weight="bold" text-anchor="middle" textLength="17.9" lengthAdjust="spacingAndGlyphs" x="108.2" y="882.6">ab</text>
<text font-size="16.2" font-weight="bold" text-anchor="middle" textLength="8.8" lengthAdjust="spacingAndGlyphs" x="115.3" y="903.5">b</text>
<text font-size="16.2" font-weight="bold" text-anchor="middle" textLength="8.3" lengthAdjust="spacingAndGlyphs" x="129.6" y="903.5">b</text>
<text font-size="16.2" font-weight="bold" text-anchor="middle" textLength="17.9" lengthAdjust="spacingAndGlyphs" x="136.9" y="881.0">ab</text>
<text font-size="16.2" font-weight="bold" text-anchor="middle" textLength="8.5" lengthAdjust="spacingAndGlyphs" x="151.9" y="871.6">a</text>
<text font-size="16.2" font-weight="bold" text-anchor="middle" textLength="9.5" lengthAdjust="spacingAndGlyphs" x="163.2" y="919.2">b</text>
<text font-size="16.2" font-weight="bold" text-anchor="middle" textLength="16.9" lengthAdjust="spacingAndGlyphs" x="190.2" y="838.5">bc</text>
<text font-size="16.2" font-weight="bold" text-anchor="middle" textLength="17.2" lengthAdjust="spacingAndGlyphs" x="199.8" y="861.4">cd</text>
<text font-size="16.2" font-weight="bold" text-anchor="middle" textLength="16.4" lengthAdjust="spacingAndGlyphs" x="210.9" y="850.7">bc</text>
<text font-size="16.2" font-weight="bold" text-anchor="middle" textLength="9.0" lengthAdjust="spacingAndGlyphs" x="225.5" y="830.4">b</text>
<text font-size="16.2" font-weight="bold" text-anchor="middle" textLength="8.7" lengthAdjust="spacingAndGlyphs" x="237.6" y="785.3">a</text>
<text font-size="16.2" font-weight="bold" text-anchor="middle" textLength="9.0" lengthAdjust="spacingAndGlyphs" x="249.7" y="876.7">d</text>
<text font-size="16.2" font-weight="bold" text-anchor="middle" textLength="9.0" lengthAdjust="spacingAndGlyphs" x="279.0" y="788.4">b</text>
<text font-size="16.2" font-weight="bold" text-anchor="middle" textLength="17.1" lengthAdjust="spacingAndGlyphs" x="285.9" y="818.4">cd</text>
<text font-size="16.2" font-weight="bold" text-anchor="middle" textLength="17.2" lengthAdjust="spacingAndGlyphs" x="299.1" y="798.0">cd</text>
<text font-size="16.2" font-weight="bold" text-anchor="middle" textLength="17.4" lengthAdjust="spacingAndGlyphs" x="307.4" y="773.9">ab</text>
<text font-size="16.2" font-weight="bold" text-anchor="middle" textLength="8.7" lengthAdjust="spacingAndGlyphs" x="324.9" y="753.2">a</text>
<text font-size="16.2" font-weight="bold" text-anchor="middle" textLength="9.0" lengthAdjust="spacingAndGlyphs" x="336.3" y="838.8">d</text>
<text font-size="16.2" font-weight="bold" text-anchor="middle" textLength="16.6" lengthAdjust="spacingAndGlyphs" x="368.8" y="732.2">bc</text>
<text font-size="16.2" font-weight="bold" text-anchor="middle" textLength="17.2" lengthAdjust="spacingAndGlyphs" x="374.9" y="769.8">cd</text>
<text font-size="16.2" font-weight="bold" text-anchor="middle" textLength="17.5" lengthAdjust="spacingAndGlyphs" x="384.4" y="757.6">cd</text>
<text font-size="16.2" font-weight="bold" text-anchor="middle" textLength="17.9" lengthAdjust="spacingAndGlyphs" x="397.5" y="732.4">ab</text>
<text font-size="16.2" font-weight="bold" text-anchor="middle" textLength="8.2" lengthAdjust="spacingAndGlyphs" x="411.2" y="715.6">a</text>
<text font-size="16.2" font-weight="bold" text-anchor="middle" textLength="9.0" lengthAdjust="spacingAndGlyphs" x="421.8" y="788.9">d</text>
<text font-size="16.2" font-weight="bold" text-anchor="middle" textLength="17.2" lengthAdjust="spacingAndGlyphs" x="449.5" y="677.4">ab</text>
<text font-size="16.2" font-weight="bold" text-anchor="middle" textLength="15.8" lengthAdjust="spacingAndGlyphs" x="463.9" y="707.5">bc</text>
<text font-size="16.2" font-weight="bold" text-anchor="middle" textLength="16.4" lengthAdjust="spacingAndGlyphs" x="471.3" y="692.2">bc</text>
<text font-size="16.2" font-weight="bold" text-anchor="middle" textLength="8.3" lengthAdjust="spacingAndGlyphs" x="486.9" y="653.7">a</text>
<text font-size="16.2" font-weight="bold" text-anchor="middle" textLength="8.4" lengthAdjust="spacingAndGlyphs" x="496.1" y="639.8">a</text>
<text font-size="16.2" font-weight="bold" text-anchor="middle" textLength="9.0" lengthAdjust="spacingAndGlyphs" x="507.6" y="741.8">d</text>
<text font-size="16.2" font-weight="bold" text-anchor="middle" textLength="17.6" lengthAdjust="spacingAndGlyphs" x="535.1" y="640.6">ab</text>
<text font-size="16.2" font-weight="bold" text-anchor="middle" textLength="15.8" lengthAdjust="spacingAndGlyphs" x="550.0" y="652.0">bc</text>
<text font-size="16.2" font-weight="bold" text-anchor="middle" textLength="7.5" lengthAdjust="spacingAndGlyphs" x="558.5" y="666.0">c</text>
<text font-size="16.2" font-weight="bold" text-anchor="middle" textLength="17.2" lengthAdjust="spacingAndGlyphs" x="571.5" y="620.7">ab</text>
<text font-size="16.2" font-weight="bold" text-anchor="middle" textLength="8.3" lengthAdjust="spacingAndGlyphs" x="581.9" y="601.6">a</text>
<text font-size="16.2" font-weight="bold" text-anchor="middle" textLength="7.7" lengthAdjust="spacingAndGlyphs" x="594.8" y="697.6">c</text>
<text x="560.5" y="1109" font-size="21" font-weight="500" fill="#bdbdbd" style="font-family:'Liberation Sans','Noto Sans CJK SC',sans-serif" textLength="129" lengthAdjust="spacingAndGlyphs">知乎 @守望者</text>
</svg></body></html>
